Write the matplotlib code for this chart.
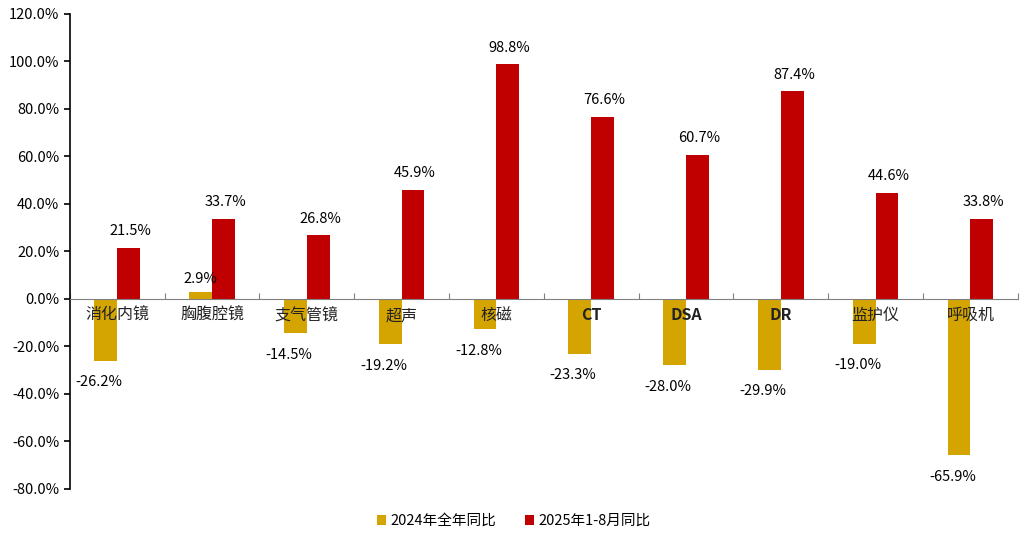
import numpy as np
import matplotlib
matplotlib.use('Agg')
import matplotlib.pyplot as plt
from matplotlib.ticker import FuncFormatter

plt.rcParams['font.family'] = ['Noto Sans CJK SC', 'DejaVu Sans']

categories = ['消化内镜', '胸腹腔镜', '支气管镜', '超声', '核磁', 'CT', 'DSA', 'DR', '监护仪', '呼吸机']
yoy_2024 = [-26.2, 2.9, -14.5, -19.2, -12.8, -23.3, -28.0, -29.9, -19.0, -65.9]
yoy_2025 = [21.5, 33.7, 26.8, 45.9, 98.8, 76.6, 60.7, 87.4, 44.6, 33.8]
series_names = ['2024年全年同比', '2025年1-8月同比']

gold = '#D4A500'
red = '#C00000'

fig = plt.figure(figsize=(10.27, 5.36), dpi=100)
ax = fig.add_axes([0.068, 0.088, 0.923, 0.886])

x = np.arange(len(categories))
w = 0.24
b1 = ax.bar(x - w / 2, yoy_2024, w, color=gold, label=series_names[0])
b2 = ax.bar(x + w / 2, yoy_2025, w, color=red, label=series_names[1])

for xi, v in zip(x, yoy_2024):
    if v >= 0:
        ax.text(xi - w / 2, v + 2.5, f'{v:.1f}%', ha='center', va='bottom', fontsize=10.5)
    else:
        ax.text(xi - w / 2 - 0.07, v - 6, f'{v:.1f}%', ha='center', va='top', fontsize=10.5)
for xi, v in zip(x, yoy_2025):
    ax.text(xi + w / 2 + 0.02, v + 4, f'{v:.1f}%', ha='center', va='bottom', fontsize=10.5)

# category names sit just under the zero line
for xi, c in zip(x, categories):
    bold = c.isascii()
    ax.text(xi, -3.5, c, ha='center', va='top', fontsize=11.5, color='#222222',
            fontweight='bold' if bold else 'normal')

ax.set_ylim(-80, 120)
ax.set_xlim(-0.5, len(categories) - 0.5)
ax.set_yticks(np.arange(-80, 121, 20))
ax.yaxis.set_major_formatter(FuncFormatter(lambda v, p: f'{v:.1f}%'))
ax.tick_params(axis='y', labelsize=10.5, direction='out', length=4, width=1.2)

ax.set_xticks(np.arange(-0.5, len(categories), 1.0))
ax.set_xticklabels([])
ax.tick_params(axis='x', direction='in', length=4, color='#808080')

ax.spines['top'].set_visible(False)
ax.spines['right'].set_visible(False)
ax.spines['bottom'].set_position(('data', 0))
ax.spines['bottom'].set_color('#808080')
ax.spines['left'].set_linewidth(1.2)

fig.legend(handles=[b1, b2], loc='lower center', bbox_to_anchor=(0.5, -0.01), ncol=2,
           frameon=False, fontsize=10.5, handlelength=0.6, handleheight=0.6,
           handletextpad=0.3, columnspacing=2.0)

fig.savefig('out.png', dpi=100)
